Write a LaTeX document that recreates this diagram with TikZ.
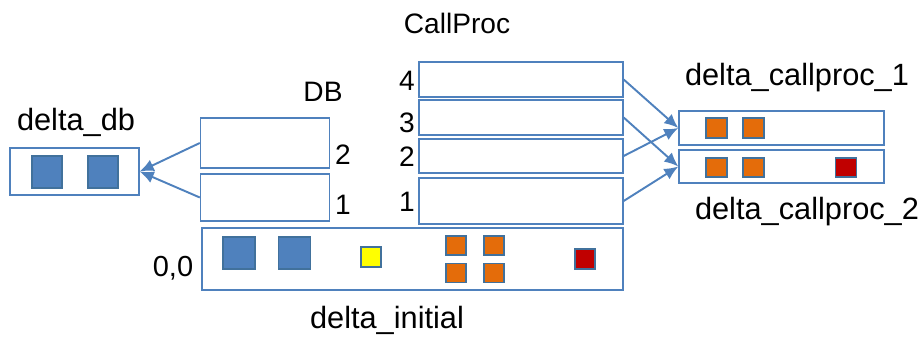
\documentclass[tikz,border=0pt]{standalone}
\usepackage{fontspec}
\setmainfont{Liberation Sans}
\usetikzlibrary{positioning,arrows.meta}
\definecolor{boxblue}{HTML}{4F81BD}
\definecolor{edgeblue}{HTML}{41719C}
\definecolor{cellorange}{HTML}{E46C0A}
\definecolor{cellred}{HTML}{C00000}
\definecolor{cellyellow}{HTML}{FFFF00}

\begin{document}
\begin{tikzpicture}[x=0.02cm,y=-0.02cm]
		\tikzstyle{slot} = [draw=boxblue, line width=0.8pt, fill=white, inner sep=0pt];
		\tikzstyle{cell} = [draw=edgeblue, line width=0.6pt, inner sep=0pt];
		\tikzstyle{title} = [font=\fontsize{17.5}{20}\selectfont];
		\tikzstyle{num} = [font=\fontsize{16}{18}\selectfont];
		\tikzstyle{link} = [draw=boxblue, line width=1.1pt, -{Latex[length=8pt,width=7pt]}];
		\useasboundingbox (0,0) rectangle (924,340);
		% storage boxes
		\node[slot, minimum width=2.58cm, minimum height=0.94cm](db) at (74.5,171.5) {};
		\node[slot, minimum width=2.58cm, minimum height=1.0cm](dbtwo) at (265,143) {};
		\node[slot, minimum width=2.58cm, minimum height=0.94cm](dbone) at (265,197.5) {};
		\node[slot, minimum width=4.08cm, minimum height=0.7cm](cpfour) at (521,79.5) {};
		\node[slot, minimum width=4.08cm, minimum height=0.7cm](cpthree) at (521,117.5) {};
		\node[slot, minimum width=4.08cm, minimum height=0.68cm](cptwo) at (521,156) {};
		\node[slot, minimum width=4.08cm, minimum height=0.92cm](cpone) at (521,201) {};
		\node[slot, minimum width=4.1cm, minimum height=0.68cm](dcpone) at (781.5,128) {};
		\node[slot, minimum width=4.1cm, minimum height=0.66cm](dcptwo) at (781.5,166.5) {};
		\node[slot, minimum width=8.42cm, minimum height=1.24cm](initial) at (412.5,259) {};
		% cells
		\node[cell, fill=boxblue, minimum width=0.6cm, minimum height=0.64cm](dbblueA) at (47,172) {};
		\node[cell, fill=boxblue, minimum width=0.6cm, minimum height=0.64cm](dbblueB) at (103,172) {};
		\node[cell, fill=boxblue, minimum size=0.64cm](initblueA) at (239,253) {};
		\node[cell, fill=boxblue, minimum size=0.64cm](initblueB) at (294.5,253) {};
		\node[cell, fill=cellyellow, minimum size=0.4cm](inityellow) at (371,257) {};
		\node[cell, fill=cellorange, minimum width=0.4cm, minimum height=0.38cm](initorangeA) at (456,245.5) {};
		\node[cell, fill=cellorange, minimum width=0.4cm, minimum height=0.38cm](initorangeB) at (494,245.5) {};
		\node[cell, fill=cellorange, minimum width=0.4cm, minimum height=0.38cm](initorangeC) at (456,273) {};
		\node[cell, fill=cellorange, minimum width=0.4cm, minimum height=0.38cm](initorangeD) at (494,273) {};
		\node[cell, fill=cellred, minimum size=0.4cm](initred) at (585,259) {};
		\node[cell, fill=cellorange, minimum width=0.42cm, minimum height=0.4cm](oneorangeA) at (716.5,128) {};
		\node[cell, fill=cellorange, minimum width=0.42cm, minimum height=0.4cm](oneorangeB) at (753.5,128) {};
		\node[cell, fill=cellorange, minimum width=0.42cm, minimum height=0.38cm](twoorangeA) at (716.5,167.5) {};
		\node[cell, fill=cellorange, minimum width=0.42cm, minimum height=0.38cm](twoorangeB) at (753.5,167.5) {};
		\node[cell, fill=cellred, minimum width=0.42cm, minimum height=0.38cm](twored) at (846,167.5) {};
		% labels
		\node[title](dblabel) at (76,122) {delta\_db};
		\node[num](dbname) at (323,92) {DB};
		\node[num](dbtwonum) at (343,155) {2};
		\node[num](dbonenum) at (343,205) {1};
		\node[num](cpname) at (457,23) {CallProc};
		\node[num](cpfournum) at (407,81) {4};
		\node[num](cpthreenum) at (407,123) {3};
		\node[num](cptwonum) at (407,157) {2};
		\node[num](cponenum) at (407,202) {1};
		\node[title](dcponelabel) at (797,78) {delta\_callproc\_1};
		\node[title](dcptwolabel) at (807,212) {delta\_callproc\_2};
		\node[num, font=\fontsize{16.5}{19}\selectfont](origin) at (173,268) {0,0};
		\node[title](initlabel) at (387,320) {delta\_initial};
		% connectors
		\draw[link] (dbtwo.west) to (db.east);
		\draw[link] (dbone.west) to (db.east);
		\draw[link] (cpfour.east) to (dcpone.west);
		\draw[link] (cptwo.east) to (dcpone.west);
		\draw[link] (cpthree.east) to (dcptwo.west);
		\draw[link] (cpone.east) to (dcptwo.west);
	\end{tikzpicture}
\end{document}
